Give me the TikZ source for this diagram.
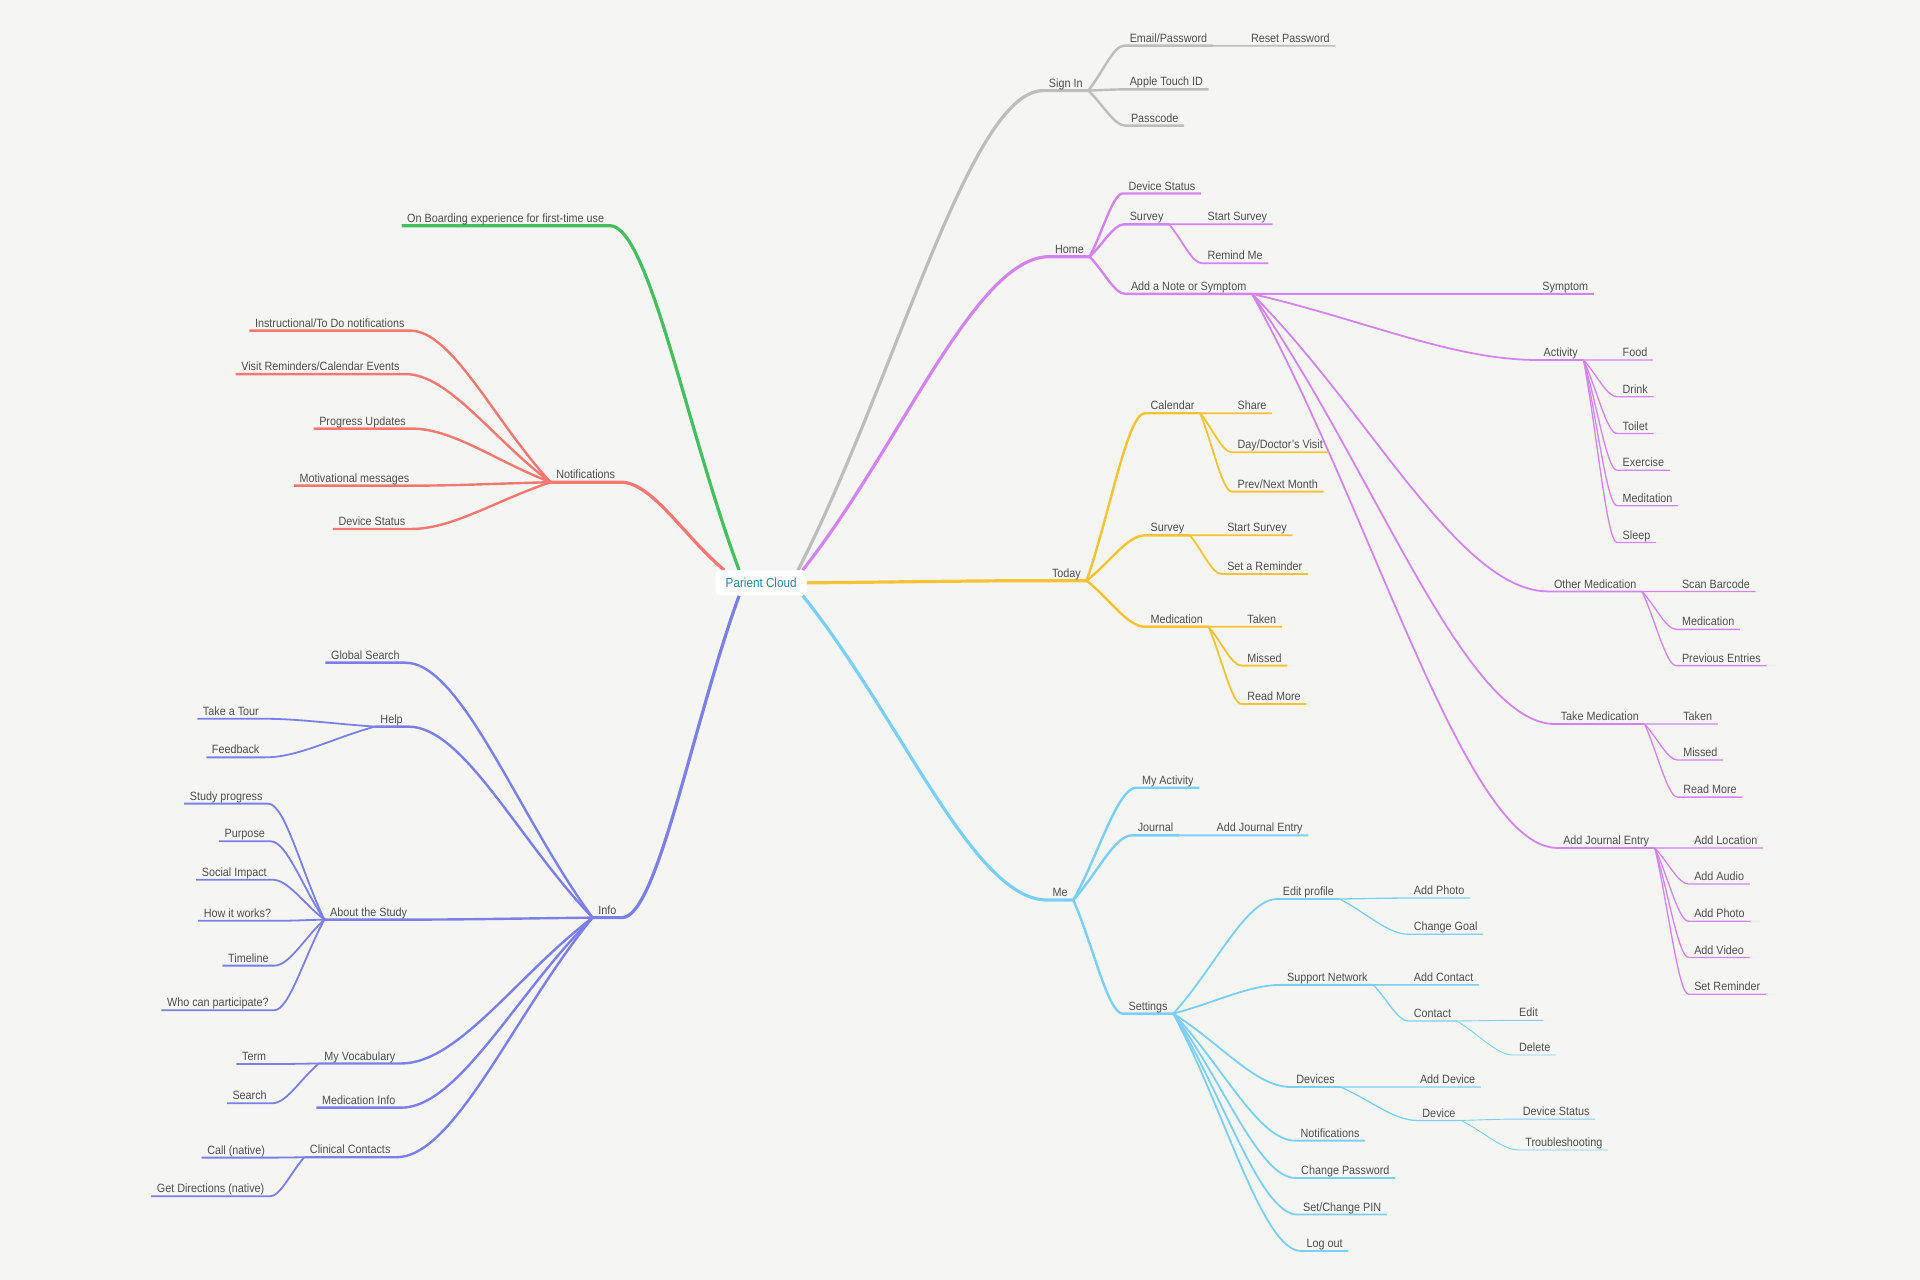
\documentclass[tikz,border=0pt]{standalone}
\usepackage{fontspec}
\setmainfont{Liberation Sans}[FakeStretch=0.9]
\usetikzlibrary{calc}
\pgfdeclarelayer{bg}
\pgfsetlayers{bg,main}
\definecolor{bgcol}{RGB}{245,246,244}
\definecolor{txtcol}{RGB}{77,77,77}
\definecolor{rootcol}{RGB}{46,125,154}
\definecolor{mmgrey}{RGB}{189,189,189}
\definecolor{mmpurple}{RGB}{212,132,242}
\definecolor{mmyellow}{RGB}{247,194,52}
\definecolor{mmsky}{RGB}{124,207,244}
\definecolor{mmblue}{RGB}{122,127,234}
\definecolor{mmred}{RGB}{242,120,112}
\definecolor{mmgreen}{RGB}{69,190,94}
\tikzset{
	br/.style={to path={.. controls ($(\tikztostart)!0.4!(\tikztotarget)$) and ($(\tikztotarget)!0.3!(\tikztostart |- \tikztotarget)$) .. (\tikztotarget)}},
	lbl/.style={text=txtcol, inner xsep=5.5pt, inner ysep=3.2pt, text depth=0pt},
	rt/.style={lbl, anchor=south west},
	lt/.style={lbl, anchor=south east},
	rootbox/.style={fill=white, rounded corners=4pt, minimum width=91pt, minimum height=25pt, inner sep=0pt, text=rootcol, font=\fontsize{13}{15}\selectfont},
	lv1/.style={line width=3.2pt},
	lv2/.style={line width=2.4pt},
	lv3/.style={line width=1.8pt},
	lv4/.style={line width=1.3pt},
	lv5/.style={line width=0.9pt}
}
\begin{document}
\begin{tikzpicture}[x=1.2245pt, y=-1.2245pt, font=\fontsize{12}{14}\selectfont, line join=round, line cap=round]
	\node[rootbox] (root) at (621.6,476) {Parient Cloud};
	% right side
	\path
	(852,74) node[rt] (signin) {Sign In}
	(918,37.3) node[rt] (email) {Email/Password}
	(1017,37.3) node[rt] (reset) {Reset Password}
	(918,73) node[rt] (touch) {Apple Touch ID}
	(919,102.6) node[rt] (pass) {Passcode}
	(857,209.6) node[rt] (home) {Home}
	(917,158) node[rt] (hdev) {Device Status}
	(918,183.2) node[rt] (hsur) {Survey}
	(981.5,183.2) node[rt] (hstart) {Start Survey}
	(981.5,215) node[rt] (hrem) {Remind Me}
	(919,240) node[rt] (note) {Add a Note or Symptom}
	(1255,240) node[rt] (sympt) {Symptom}
	(1256,294) node[rt] (activ) {Activity}
	(1320.5,294) node[rt] (food) {Food}
	(1320.5,324) node[rt] (drink) {Drink}
	(1320.5,354) node[rt] (toilet) {Toilet}
	(1320.5,384) node[rt] (exer) {Exercise}
	(1320.5,413) node[rt] (medit) {Meditation}
	(1320.5,443) node[rt] (sleep) {Sleep}
	(1264.5,483) node[rt] (omed) {Other Medication}
	(1369,483) node[rt] (scan) {Scan Barcode}
	(1369,514) node[rt] (omedi) {Medication}
	(1369,543.6) node[rt] (prev) {Previous Entries}
	(1270,591.3) node[rt] (tmed) {Take Medication}
	(1370,591.3) node[rt] (ttak) {Taken}
	(1370,620.7) node[rt] (tmis) {Missed}
	(1370,651) node[rt] (trea) {Read More}
	(1272,692.5) node[rt] (ajour) {Add Journal Entry}
	(1379,692.5) node[rt] (aloc) {Add Location}
	(1379,722) node[rt] (aaud) {Add Audio}
	(1379,752.3) node[rt] (apho) {Add Photo}
	(1379,782) node[rt] (avid) {Add Video}
	(1379,812) node[rt] (arem) {Set Reminder}
	(854.5,474.2) node[rt] (today) {Today}
	(935,337.5) node[rt] (cal) {Calendar}
	(1006,337.5) node[rt] (share) {Share}
	(1006,369.4) node[rt] (dayv) {Day/Doctor's Visit}
	(1006,401.5) node[rt] (month) {Prev/Next Month}
	(935,437.2) node[rt] (tsur) {Survey}
	(997.6,437.2) node[rt] (tstart) {Start Survey}
	(997.6,468.8) node[rt] (trem) {Set a Reminder}
	(935,511.8) node[rt] (tmedi) {Medication}
	(1014,511.8) node[rt] (mtak) {Taken}
	(1014,543.6) node[rt] (mmis) {Missed}
	(1014,575) node[rt] (mrea) {Read More}
	(855,735) node[rt] (me) {Me}
	(928,643.3) node[rt] (myact) {My Activity}
	(924.5,682.2) node[rt] (jour) {Journal}
	(989,682.2) node[rt] (jadd) {Add Journal Entry}
	(917,827.8) node[rt] (sett) {Settings}
	(1043,734.2) node[rt] (edit) {Edit profile}
	(1150,733.4) node[rt] (ephot) {Add Photo}
	(1150,762.9) node[rt] (egoal) {Change Goal}
	(1046.5,804.3) node[rt] (supp) {Support Network}
	(1150,804.3) node[rt] (scont) {Add Contact}
	(1150,833.8) node[rt] (cont) {Contact}
	(1236,833.3) node[rt] (cedit) {Edit}
	(1236,861.6) node[rt] (cdel) {Delete}
	(1054,887.7) node[rt] (devs) {Devices}
	(1155,887.7) node[rt] (dadd) {Add Device}
	(1157,915) node[rt] (dev) {Device}
	(1239,913.9) node[rt] (dstat) {Device Status}
	(1241,939.2) node[rt] (dtrou) {Troubleshooting}
	(1057.5,931.5) node[rt] (snot) {Notifications}
	(1058,962) node[rt] (spw) {Change Password}
	(1059.6,991.9) node[rt] (spin) {Set/Change PIN}
	(1062.4,1021.6) node[rt] (slog) {Log out}
	;
	% left side
	\path
	(498,184.3) node[lt] (onb) {On Boarding experience for first-time use}
	(507,393.8) node[lt] (notif) {Notifications}
	(335,270) node[lt] (ninst) {Instructional/To Do notifications}
	(331,305.5) node[lt] (nvis) {Visit Reminders/Calendar Events}
	(336,350) node[lt] (nprog) {Progress Updates}
	(339,396.6) node[lt] (nmot) {Motivational messages}
	(335.6,432) node[lt] (ndev) {Device Status}
	(508,749.4) node[lt] (info) {Info}
	(331,541.2) node[lt] (glob) {Global Search}
	(333.5,593.4) node[lt] (help) {Help}
	(216,587) node[lt] (tour) {Take a Tour}
	(216.5,618.5) node[lt] (feed) {Feedback}
	(337,751) node[lt] (about) {About the Study}
	(219,656.3) node[lt] (sprog) {Study progress}
	(221,687) node[lt] (purp) {Purpose}
	(222.5,718.4) node[lt] (soc) {Social Impact}
	(226,752) node[lt] (how) {How it works?}
	(224,788.6) node[lt] (time) {Timeline}
	(224,825) node[lt] (who) {Who can participate?}
	(327.5,868.5) node[lt] (vocab) {My Vocabulary}
	(222,869) node[lt] (term) {Term}
	(222.5,901) node[lt] (srch) {Search}
	(327.5,904.6) node[lt] (minfo) {Medication Info}
	(323.5,945.1) node[lt] (clin) {Clinical Contacts}
	(221,945.4) node[lt] (call) {Call (native)}
	(220.5,977) node[lt] (dirs) {Get Directions (native)}
	;
	\begin{pgfonlayer}{bg}
		\fill[bgcol] (0,0) rectangle (1568,1045);
		% main branches
		\draw[mmgreen,lv1] (root.150) to[br] (onb.south east) -- (onb.south west);
		\draw[mmred,lv1] (root.161) to[br] (notif.south east) -- (notif.south west);
		\draw[mmgrey,lv1] (root.19) to[br] (signin.south west) -- (signin.south east);
		\draw[mmpurple,lv1] (root.17) to[br] (home.south west) -- (home.south east);
		\draw[mmyellow,lv1] (root.east) to[br] (today.south west) -- (today.south east);
		\draw[mmsky,lv1] (root.343) to[br] (me.south west) -- (me.south east);
		\draw[mmblue,lv1] (root.210) to[br] (info.south east) -- (info.south west);
		% right sub-branches
		\foreach \p/\c/\w in {signin/email/lv2, signin/touch/lv2, signin/pass/lv2, email/reset/lv3}
		\draw[mmgrey,\w] (\p.south east) to[br] (\c.south west) -- (\c.south east);
		\foreach \p/\c/\w in {home/hdev/lv2, home/hsur/lv2, home/note/lv2, hsur/hstart/lv3, hsur/hrem/lv3,
			note/sympt/lv3, note/activ/lv3, note/omed/lv3, note/tmed/lv3, note/ajour/lv3,
			activ/food/lv4, activ/drink/lv4, activ/toilet/lv4, activ/exer/lv4, activ/medit/lv4, activ/sleep/lv4,
			omed/scan/lv4, omed/omedi/lv4, omed/prev/lv4, tmed/ttak/lv4, tmed/tmis/lv4, tmed/trea/lv4,
			ajour/aloc/lv4, ajour/aaud/lv4, ajour/apho/lv4, ajour/avid/lv4, ajour/arem/lv4}
		\draw[mmpurple,\w] (\p.south east) to[br] (\c.south west) -- (\c.south east);
		\foreach \p/\c/\w in {today/cal/lv2, today/tsur/lv2, today/tmedi/lv2, cal/share/lv3, cal/dayv/lv3, cal/month/lv3,
			tsur/tstart/lv3, tsur/trem/lv3, tmedi/mtak/lv3, tmedi/mmis/lv3, tmedi/mrea/lv3}
		\draw[mmyellow,\w] (\p.south east) to[br] (\c.south west) -- (\c.south east);
		\foreach \p/\c/\w in {me/myact/lv2, me/jour/lv2, me/sett/lv2, jour/jadd/lv3,
			sett/edit/lv3, sett/supp/lv3, sett/devs/lv3, sett/snot/lv3, sett/spw/lv3, sett/spin/lv3, sett/slog/lv3,
			edit/ephot/lv4, edit/egoal/lv4, supp/scont/lv4, supp/cont/lv4, devs/dadd/lv4, devs/dev/lv4,
			cont/cedit/lv5, cont/cdel/lv5, dev/dstat/lv5, dev/dtrou/lv5}
		\draw[mmsky,\w] (\p.south east) to[br] (\c.south west) -- (\c.south east);
		% left sub-branches
		\foreach \c in {ninst,nvis,nprog,nmot,ndev}
		\draw[mmred,lv2] (notif.south west) to[br] (\c.south east) -- (\c.south west);
		\foreach \p/\c/\w in {info/glob/lv2, info/help/lv2, info/about/lv2, info/vocab/lv2, info/minfo/lv2, info/clin/lv2,
			help/tour/lv3, help/feed/lv3, about/sprog/lv3, about/purp/lv3, about/soc/lv3, about/how/lv3, about/time/lv3, about/who/lv3,
			vocab/term/lv3, vocab/srch/lv3, clin/call/lv3, clin/dirs/lv3}
		\draw[mmblue,\w] (\p.south west) to[br] (\c.south east) -- (\c.south west);
	\end{pgfonlayer}
\end{tikzpicture}
\end{document}
